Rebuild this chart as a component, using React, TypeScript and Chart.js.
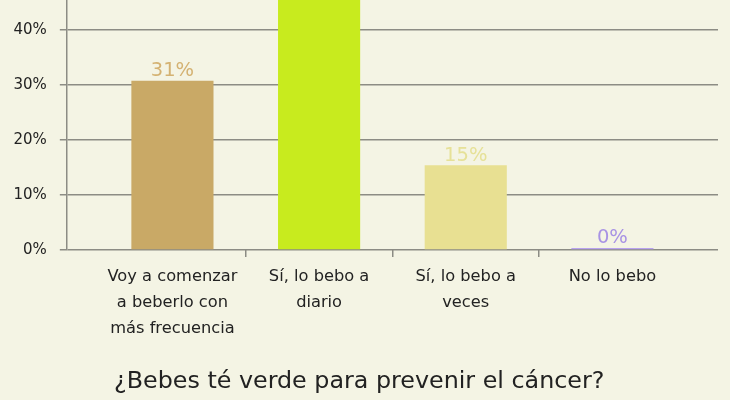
import React, { useEffect, useRef } from 'react';
import { Chart, registerables } from 'chart.js';

Chart.register(...registerables);

// survey answers, one line per array item
const categories = [
  ['Voy a comenzar', 'a beberlo con', 'más frecuencia'],
  ['Sí, lo bebo a', 'diario'],
  ['Sí, lo bebo a', 'veces'],
  ['No lo bebo'],
];
const percents = [30.77, 53.85, 15.38, 0];
const barColors = ['#c9a966', '#c8eb1e', '#e8e092', '#b8a2ee'];
const labelColors = ['#d4b272', '#d0ef3a', '#e6e198', '#a893e4'];
const yTicks = [0, 10, 20, 30, 40, 50, 60];
const titleText = '¿Bebes té verde para prevenir el cáncer?';

const FONT = '"DejaVu Sans", Verdana, sans-serif';
const SHIFT = 102; // top of the plot sits above the visible page

// percentage text over each bar
const valueLabels = {
  id: 'valueLabels',
  afterDatasetsDraw(chart) {
    const { ctx } = chart;
    const meta = chart.getDatasetMeta(0);
    ctx.save();
    ctx.font = '19.5px ' + FONT;
    ctx.textAlign = 'center';
    ctx.textBaseline = 'bottom';
    meta.data.forEach((bar, i) => {
      ctx.fillStyle = labelColors[i];
      ctx.fillText(Math.round(percents[i]) + '%', bar.x, bar.y);
    });
    ctx.restore();
  },
};

const hideOuter = (c) =>
  c.index === undefined || c.index === 0 || c.index >= categories.length ? 'rgba(0,0,0,0)' : '#8c8c84';

const App = () => {
  const chartRef = useRef(null);

  useEffect(() => {
    document.body.style.margin = '0';
    const canvas = chartRef.current;

    const chart = new Chart(canvas, {
      type: 'bar',
      data: {
        datasets: [{
          data: percents.map((p, i) => ({ x: i, y: p })),
          backgroundColor: barColors,
          borderWidth: 0,
          categoryPercentage: 1,
          barPercentage: 0.56,
          minBarLength: 2,
        }],
      },
      options: {
        animation: false,
        responsive: false,
        layout: { padding: { left: 0.5, right: 12, top: 2, bottom: 0 } },
        plugins: {
          legend: { display: false },
          tooltip: { enabled: false },
          title: {
            display: true,
            text: titleText,
            position: 'bottom',
            color: '#222',
            font: { family: FONT, size: 23.8, weight: 'normal' },
            padding: { top: 19, bottom: 3.5 },
          },
        },
        scales: {
          x: {
            type: 'linear',
            offset: false,
            min: -0.72,
            max: 3.72,
            afterBuildTicks: (scale) => {
              scale.ticks = categories.map((_, i) => ({ value: i }));
            },
            grid: {
              offset: true,
              drawOnChartArea: false,
              drawTicks: true,
              tickLength: 7,
              lineWidth: 1.5,
              tickColor: hideOuter,
            },
            border: { display: false },
            ticks: {
              autoSkip: false,
              maxRotation: 0,
              padding: 7,
              color: '#222',
              font: { family: FONT, size: 16.25, lineHeight: 1.6 },
              callback: (v) => categories[v] ?? '',
            },
          },
          y: {
            min: 0,
            max: 60,
            afterBuildTicks: (scale) => {
              scale.ticks = yTicks.map((v) => ({ value: v }));
            },
            grid: {
              color: '#8c8c84',
              lineWidth: 1.5,
              tickLength: 7,
            },
            border: { display: true, color: '#8c8c84', width: 1.5 },
            ticks: {
              padding: 13,
              color: '#222',
              font: { family: FONT, size: 15 },
              callback: (v) => v + '%',
            },
          },
        },
      },
      plugins: [valueLabels],
    });

    return () => {
      chart.destroy();
    };
  }, []);

  return (
    <div style={{ width: 730, height: 400, overflow: 'hidden', background: '#f4f4e4', position: 'relative' }}>
      <canvas ref={chartRef} width={730} height={400 + SHIFT} style={{ position: 'absolute', left: 0, top: -SHIFT }}></canvas>
    </div>
  );
};

export default App;
